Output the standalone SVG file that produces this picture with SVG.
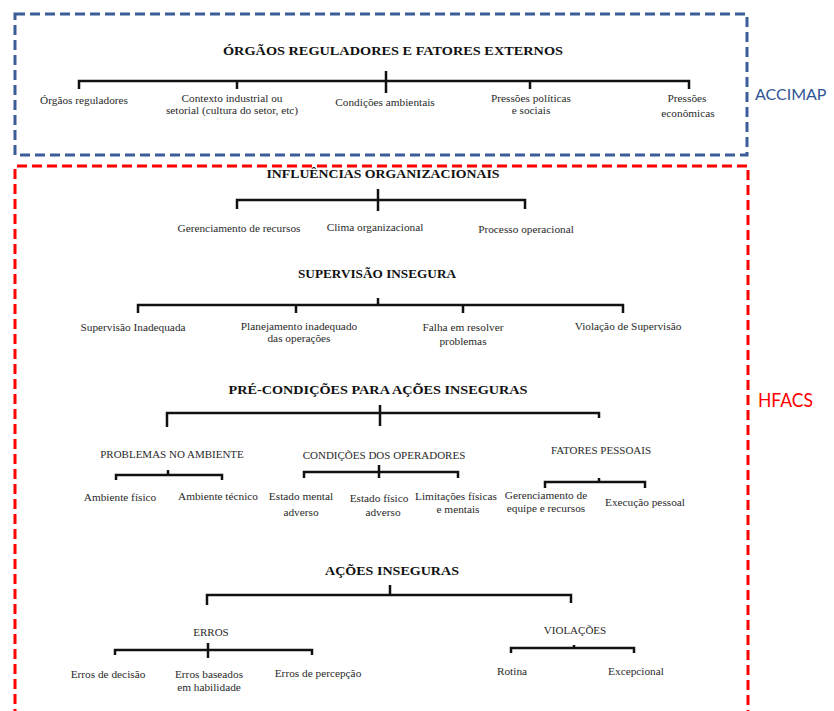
<svg xmlns="http://www.w3.org/2000/svg" width="834" height="711" viewBox="0 0 834 711">
<style>
.t{font-family:"Liberation Serif","Times New Roman",serif;font-weight:bold;font-size:13.5px;fill:#111;text-anchor:middle}
.l{font-family:"Liberation Serif","Times New Roman",serif;font-size:11.3px;fill:#2a2a2a;text-anchor:middle}
.s{font-family:"Liberation Serif","Times New Roman",serif;font-size:11px;fill:#2a2a2a;text-anchor:middle}
.br{fill:none;stroke:#111;stroke-width:2.5;stroke-linejoin:miter}
.tag{font-family:Lato,"Open Sans",sans-serif;font-size:19px}
</style>
<rect width="834" height="711" fill="#fff"/>
<g id="frames">
<rect id="accimap-box" x="15" y="14" width="732" height="141" fill="none" stroke="#3B5E99" stroke-width="3" stroke-dasharray="10 5"/>
<path id="hfacs-box" d="M748,720 V166 H15 V720" fill="none" stroke="#FF0000" stroke-width="3" stroke-dasharray="10 5"/>
</g>
<g id="tag-accimap"><text class="tag" x="755" y="100" fill="#2F5597" style="font-size:16px">ACCIMAP</text></g>
<g id="tag-hfacs"><text class="tag" x="758" y="407" fill="#FF0000" textLength="55" lengthAdjust="spacingAndGlyphs">HFACS</text></g>

<g id="connectors">
<path class="br" d="M79,89 V81 H689 V89 M237,81 V89 M530,81 V89 M386,71 V93"/>
<path class="br" d="M237,209 V200 H525 V209 M378,189 V211"/>
<path class="br" d="M138,313 V305 H623 V313 M296,305 V313 M463,305 V313 M378,298 V305"/>
<path class="br" d="M167,427 V413 H599 V418 M380,405 V426"/>
<path class="br" d="M116,480 V475 H222 V480 M168,470 V475"/>
<path class="br" d="M304,478 V472 H458 V478 M379,465 V478"/>
<path class="br" d="M545,488 V482 H645 V488 M599,478 V482"/>
<path class="br" d="M207,605 V595 H571 V603 M390,585 V595"/>
<path class="br" d="M115,655 V650 H312 V655 M208,643 V658"/>
<path class="br" d="M511,653 V648 H634 V653 M574,645 V648"/>
</g>

<g id="n-orgaos-title"><text class="t" x="393" y="55" textLength="340" lengthAdjust="spacingAndGlyphs">ÓRGÃOS REGULADORES E FATORES EXTERNOS</text></g>
<g id="n-orgaos-reg"><text class="l" x="84" y="104">Órgãos reguladores</text></g>
<g id="n-contexto"><text class="l" x="232" y="102">Contexto industrial ou</text><text class="l" x="232" y="114">setorial (cultura do setor, etc)</text></g>
<g id="n-condicoes-amb"><text class="l" x="385" y="106">Condições ambientais</text></g>
<g id="n-pressoes-pol"><text class="l" x="531" y="102">Pressões políticas</text><text class="l" x="531" y="114">e sociais</text></g>
<g id="n-pressoes-eco"><text class="l" x="687" y="102">Pressões</text><text class="l" x="688" y="117">econômicas</text></g>

<g id="n-influencias"><text class="t" x="383" y="178" textLength="233" lengthAdjust="spacingAndGlyphs">INFLUÊNCIAS ORGANIZACIONAIS</text></g>
<g id="n-gerenc-rec"><text class="l" x="239" y="232">Gerenciamento de recursos</text></g>
<g id="n-clima"><text class="l" x="375" y="231">Clima  organizacional</text></g>
<g id="n-processo"><text class="l" x="526" y="233">Processo operacional</text></g>

<g id="n-supervisao"><text class="t" x="377" y="278" textLength="158" lengthAdjust="spacingAndGlyphs">SUPERVISÃO INSEGURA</text></g>
<g id="n-sup-inad"><text class="l" x="133" y="331">Supervisão Inadequada</text></g>
<g id="n-planej"><text class="l" x="299" y="330">Planejamento inadequado</text><text class="l" x="299" y="342">das operações</text></g>
<g id="n-falha"><text class="l" x="463" y="331">Falha em resolver</text><text class="l" x="463" y="345">problemas</text></g>
<g id="n-violacao-sup"><text class="l" x="628" y="330">Violação de Supervisão</text></g>

<g id="n-precond"><text class="t" x="378" y="394" textLength="299" lengthAdjust="spacingAndGlyphs">PRÉ-CONDIÇÕES PARA AÇÕES INSEGURAS</text></g>
<g id="n-prob-amb"><text class="s" x="172" y="458">PROBLEMAS NO AMBIENTE</text></g>
<g id="n-amb-fis"><text class="l" x="120" y="501">Ambiente físico</text></g>
<g id="n-amb-tec"><text class="l" x="218" y="500">Ambiente técnico</text></g>
<g id="n-cond-op"><text class="s" x="384" y="459">CONDIÇÕES DOS OPERADORES</text></g>
<g id="n-est-mental"><text class="l" x="301" y="500">Estado mental</text><text class="l" x="301" y="516">adverso</text></g>
<g id="n-est-fisico"><text class="l" x="379" y="502">Estado físico</text><text class="l" x="383" y="516">adverso</text></g>
<g id="n-limitacoes"><text class="l" x="456" y="500">Limitações físicas</text><text class="l" x="458" y="513">e mentais</text></g>
<g id="n-fat-pess"><text class="s" x="601" y="454">FATORES PESSOAIS</text></g>
<g id="n-ger-equipe"><text class="l" x="546" y="499">Gerenciamento de</text><text class="l" x="546" y="512">equipe e recursos</text></g>
<g id="n-exec-pess"><text class="l" x="645" y="506">Execução pessoal</text></g>

<g id="n-acoes"><text class="t" x="392" y="575" textLength="134" lengthAdjust="spacingAndGlyphs">AÇÕES INSEGURAS</text></g>
<g id="n-erros"><text class="s" x="211" y="636">ERROS</text></g>
<g id="n-erros-dec"><text class="l" x="108" y="678">Erros de decisão</text></g>
<g id="n-erros-hab"><text class="l" x="209" y="678">Erros baseados</text><text class="l" x="209" y="691">em habilidade</text></g>
<g id="n-erros-perc"><text class="l" x="318" y="677">Erros de percepção</text></g>
<g id="n-violacoes"><text class="s" x="575" y="634">VIOLAÇÕES</text></g>
<g id="n-rotina"><text class="l" x="512" y="675">Rotina</text></g>
<g id="n-excep"><text class="l" x="636" y="675">Excepcional</text></g>
</svg>
